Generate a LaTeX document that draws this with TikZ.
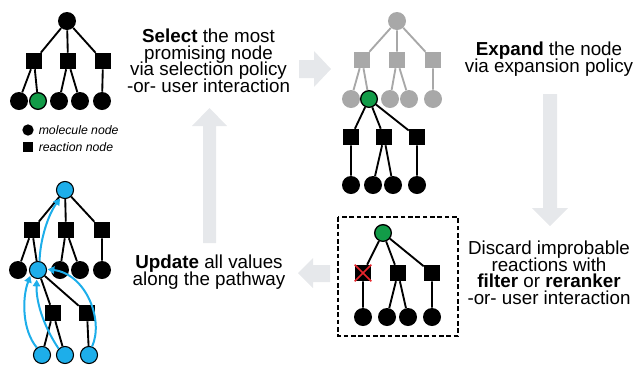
\documentclass[tikz,border=0pt]{standalone}
\usepackage{fontspec}
\setmainfont{Liberation Sans}
\usetikzlibrary{arrows.meta}
\definecolor{mygreen}{HTML}{129B48}
\definecolor{mygray}{HTML}{A8A8A8}
\definecolor{myblue}{HTML}{1DAEEA}
\definecolor{arrowgray}{HTML}{E6E8EB}
\definecolor{myred}{HTML}{E8262C}
\newcommand\mytightfont{\fontsize{14.1}{12.3}\selectfont\lineskiplimit=-20pt\relax\lineskip=0pt\relax}
\begin{document}
\begin{tikzpicture}[x=0.75pt,y=-0.75pt,
  mol/.style={circle, fill=black, minimum size=13.5pt, inner sep=0pt},
  rxn/.style={rectangle, fill=black, minimum size=12pt, inner sep=0pt},
  gmol/.style={mol, fill=mygray},
  grxn/.style={rxn, fill=mygray},
  sel/.style={mol, fill=mygreen, draw=black, line width=1pt, minimum size=12.5pt},
  bmol/.style={mol, fill=myblue, draw=black, line width=0.8pt, minimum size=12.8pt},
  edge/.style={line width=1.4pt, draw=black},
  gedge/.style={line width=1.4pt, draw=mygray},
  bigarrow/.style={fill=arrowgray, draw=none},
  bluearrow/.style={draw=myblue, line width=1.5pt, -{Triangle[length=5pt,width=5.5pt]}, shorten >=0.5pt},
  txt/.style={font=\mytightfont, align=center, inner sep=0pt, anchor=north},
  leg/.style={font=\fontsize{9.2}{11}\selectfont\itshape, anchor=west, inner sep=0pt}]
\useasboundingbox (0,0) rectangle (636,365);

% big gray arrows
\fill[bigarrow] (299,60)--(314,60)--(314,51)--(331,69)--(314,87)--(314,78)--(299,78)--cycle;
\fill[bigarrow] (543,94)--(557,94)--(557,208)--(568,208)--(550,226)--(532,208)--(543,208)--cycle;
\fill[bigarrow] (330,265)--(313,265)--(313,258)--(298,273)--(313,288)--(313,282)--(330,282)--cycle;
\fill[bigarrow] (203,243)--(216,243)--(216,126)--(227,126)--(209.5,108)--(192,126)--(203,126)--cycle;

% tree 1
\node[mol] (a0) at (67,21) {};
\node[rxn] (a1) at (34,61) {};
\node[rxn] (a2) at (68,61) {};
\node[rxn] (a3) at (103,61) {};
\node[mol] (a11) at (19,101) {};
\node[sel] (a12) at (38,101) {};
\node[mol] (a21) at (59,101) {};
\node[mol] (a22) at (80,101) {};
\node[mol] (a31) at (102,101) {};
\draw[edge] (a0)--(a1) (a0)--(a2) (a0)--(a3) (a1)--(a11) (a1)--(a12) (a2)--(a21) (a2)--(a22) (a3)--(a31);

% legend
\node[mol, minimum size=8.5pt] (lm) at (28,130) {};
\node[leg] (lmt) at (38.5,130.5) {molecule node};
\node[rxn, minimum size=8pt] (lr) at (28,147) {};
\node[leg] (lrt) at (38.5,147) {reaction node};

% tree 2
\node[gmol] (b0) at (397,21) {};
\node[grxn] (b1) at (362,60) {};
\node[grxn] (b2) at (397,60) {};
\node[grxn] (b3) at (433,60) {};
\node[gmol] (b11) at (351,99) {};
\node[sel] (b12) at (369,99) {};
\node[gmol] (b21) at (390,99) {};
\node[gmol] (b22) at (409,99) {};
\node[gmol] (b31) at (433,99) {};
\draw[gedge] (b0)--(b1) (b0)--(b2) (b0)--(b3) (b1)--(b11) (b1)--(b12) (b2)--(b21) (b2)--(b22) (b3)--(b31);
\node[rxn] (c1) at (351,137) {};
\node[rxn] (c2) at (384,137) {};
\node[rxn] (c3) at (417,137) {};
\node[mol] (c11) at (351,185) {};
\node[mol] (c21) at (373,185) {};
\node[mol] (c22) at (393,185) {};
\node[mol] (c31) at (417,185) {};
\draw[edge] (b12)--(c1) (b12)--(c2) (b12)--(c3) (c1)--(c11) (c2)--(c21) (c2)--(c22) (c3)--(c31);

% tree 3 (filter)
\draw[line width=1.3pt, dash pattern=on 3.5pt off 2pt] (338,217) rectangle (458,336);
\node[sel] (d0) at (383,233) {};
\node[rxn] (d1) at (363,273) {};
\node[rxn] (d2) at (398,273) {};
\node[rxn] (d3) at (432,273) {};
\node[mol] (d11) at (363,317) {};
\node[mol] (d21) at (387,317) {};
\node[mol] (d22) at (408,317) {};
\node[mol] (d31) at (432,317) {};
\draw[edge] (d0)--(d1) (d0)--(d2) (d0)--(d3) (d1)--(d11) (d2)--(d21) (d2)--(d22) (d3)--(d31);
\draw[myred, line width=1.3pt] (d1.north west)--(d1.south east) (d1.north east)--(d1.south west);

% tree 4 (update)
\node[bmol] (e0) at (65,190) {};
\node[rxn] (e1) at (32,230) {};
\node[rxn] (e2) at (66,230) {};
\node[rxn] (e3) at (102,230) {};
\node[mol] (e11) at (18,270) {};
\node[bmol] (e12) at (38,270) {};
\node[mol] (e21) at (60,270) {};
\node[mol] (e22) at (80,270) {};
\node[mol] (e31) at (102,270) {};
\node[rxn] (f1) at (53,313) {};
\node[rxn] (f2) at (87,313) {};
\node[bmol] (f11) at (42,355) {};
\node[bmol] (f12) at (65,355) {};
\node[bmol] (f21) at (89,355) {};
\draw[edge] (e0)--(e1) (e0)--(e2) (e0)--(e3) (e1)--(e11) (e1)--(e12) (e2)--(e21) (e2)--(e22) (e3)--(e31)
  (e12)--(f1) (e12)--(f2) (f1)--(f11) (f1)--(f12) (f2)--(f21);
\draw[bluearrow] (f11.125) .. controls (22,330) and (22,298) .. (e12.215);
\draw[bluearrow] (f12.135) .. controls (46,330) and (36,305) .. (e12.262);
\draw[bluearrow] (f21.70) .. controls (104,320) and (86,274) .. (e12.5);
\draw[bluearrow] (e12.80) .. controls (40,240) and (48,215) .. (e0.240);

% texts
\node[txt] (t1) at (208.5,29) {\textbf{Select} the most\\promising node\\via selection policy\\-or- user interaction};
\node[txt] (t2) at (549,42) {\textbf{Expand} the node\\via expansion policy};
\node[txt] (t3) at (549,241) {Discard improbable\\reactions with\\\textbf{filter} or \textbf{reranker}\\-or- user interaction};
\node[txt] (t4) at (209,255) {\textbf{Update} all values\\along the pathway};
\end{tikzpicture}
\end{document}
